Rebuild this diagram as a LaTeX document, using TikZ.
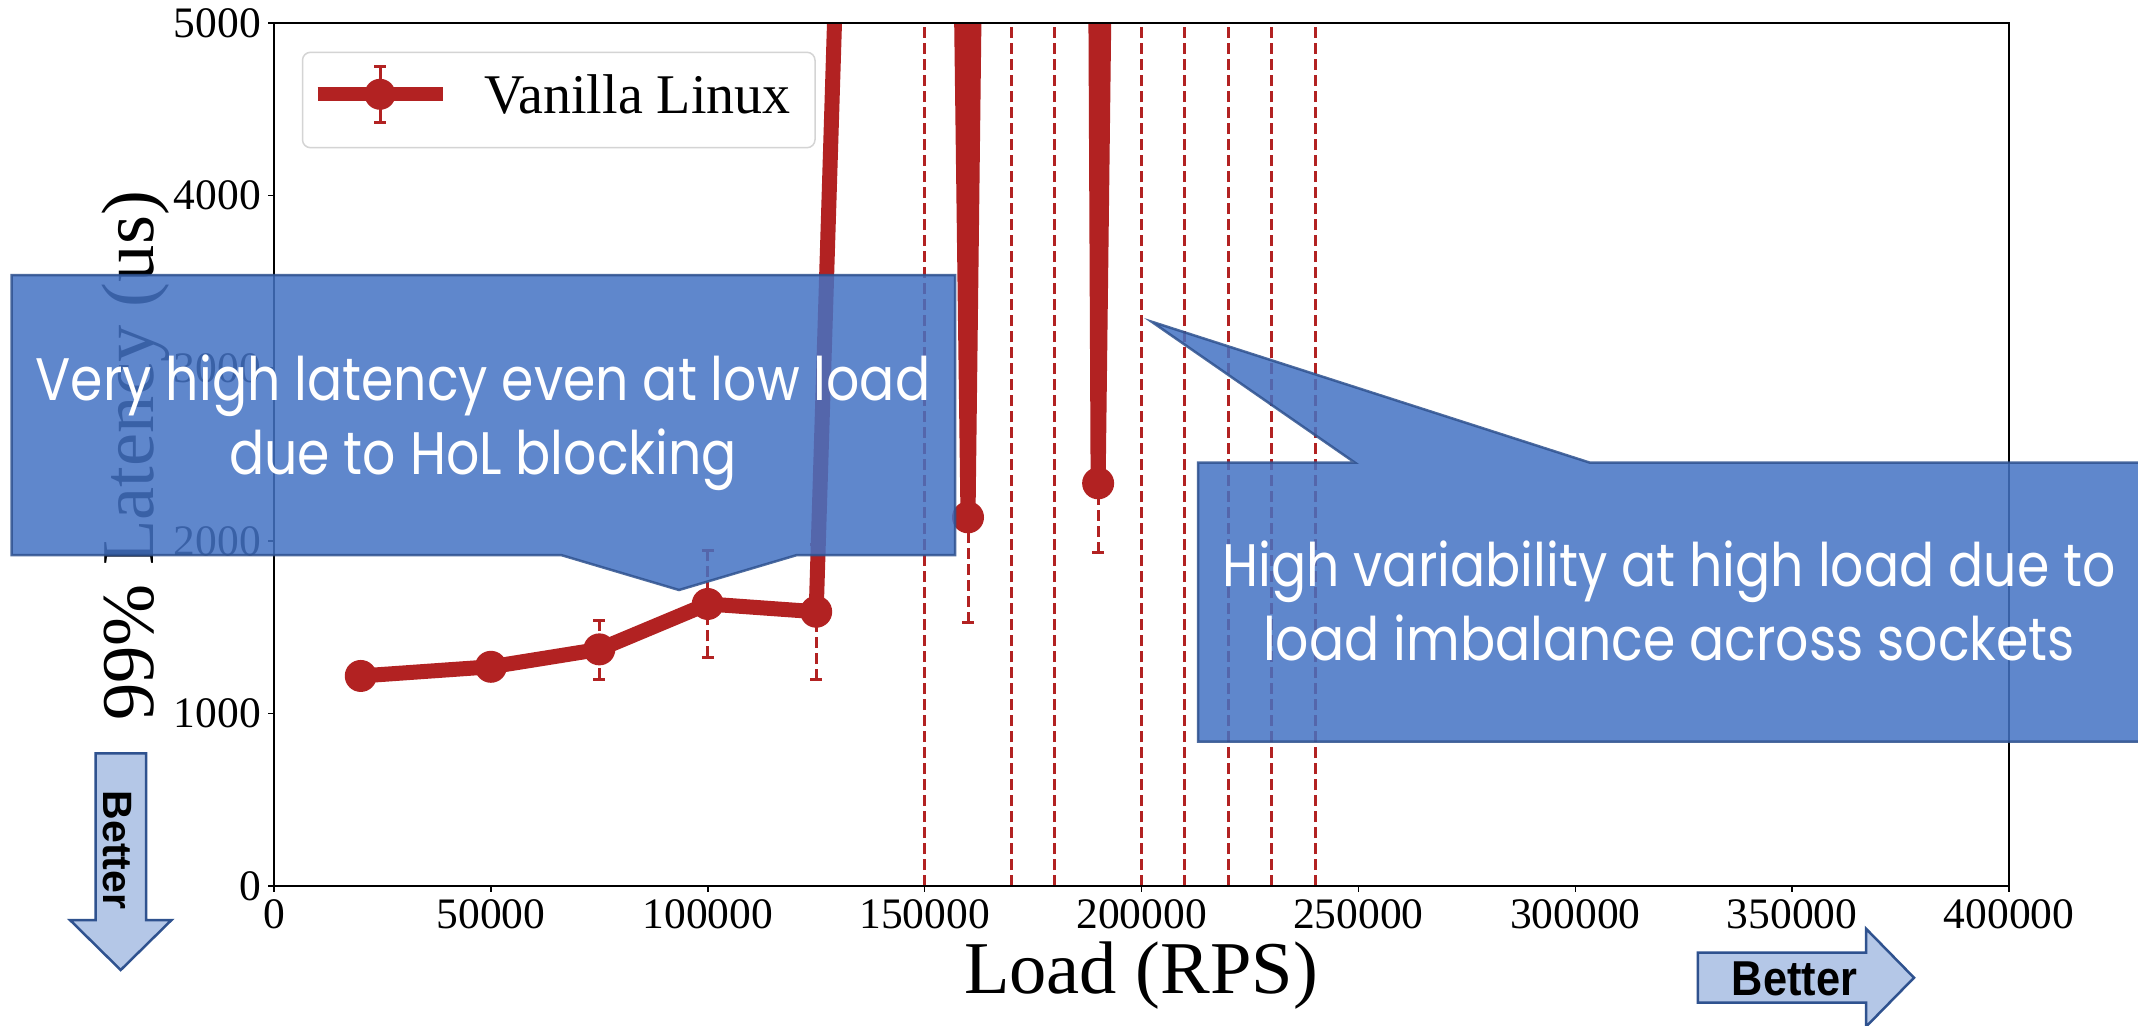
\documentclass[tikz,border=0pt]{standalone}
\usepackage{fontspec}
\setmainfont{Liberation Serif}
\newfontfamily\calloutfont{Poppins}[FakeStretch=0.868]
\newfontfamily\arrowfont{Liberation Sans}
\newfontfamily\arrowcondfont{Liberation Sans}[FakeStretch=0.885]

\definecolor{lineRed}{HTML}{B22222}
\definecolor{calloutFill}{HTML}{4472C4}
\definecolor{calloutEdge}{HTML}{2F528F}
\definecolor{arrowFill}{HTML}{B4C7E7}
\definecolor{legendEdge}{HTML}{D4D4D4}

\begin{document}
\begin{tikzpicture}[x=1pt, y=-1pt,
  spine/.style={line width=1.6pt, black},
  tickmark/.style={line width=1.5pt, black},
  ticklabel/.style={font=\fontsize{43.5}{50}\selectfont, inner sep=0pt},
  axislabel/.style={font=\fontsize{74.5}{86}\selectfont, inner sep=0pt},
  dataline/.style={draw=lineRed, line width=15pt, line join=round},
  errbar/.style={draw=lineRed, line width=3pt, dash pattern=on 11pt off 5pt},
  errcap/.style={draw=lineRed, line width=3pt},
  marker/.style={fill=lineRed},
  callout/.style={fill=calloutFill, draw=calloutEdge, opacity=0.85, line width=2.5pt, line join=miter},
  callouttext/.style={text=white, font=\calloutfont\fontsize{60}{74}\selectfont, inner sep=0pt, anchor=base},
  betterarrow/.style={fill=arrowFill, draw=calloutEdge, line width=2.5pt, line join=miter},
]
\useasboundingbox (0,0) rectangle (2138,1025);
\fill[white] (0,0) rectangle (2138,1025);

% ---- axes: data in thousands (x: kRPS, y: thousand us) ----
\begin{scope}[shift={(274pt,-886pt)}, x=4.3375pt, y=172.6pt]
  % ticks and tick labels
  \foreach \v in {0,...,5} {
    \draw[tickmark] (0,\v) -- ++(-6pt,0);
    \pgfmathtruncatemacro{\lab}{\v*1000}
    \node[ticklabel, anchor=east] (ytick\v) at ([xshift=-13pt]0,\v) {\lab};
  }
  \foreach \k in {0,...,8} {
    \pgfmathtruncatemacro{\xx}{\k*50}
    \draw[tickmark] (\xx,0) -- ++(0,-6pt);
    \ifnum\k=0
      \node[ticklabel, anchor=base] (xtick\k) at ([yshift=-42pt]\xx,0) {0};
    \else
      \node[ticklabel, anchor=base] (xtick\k) at ([yshift=-42pt]\xx,0) {\xx000};
    \fi
  }

  \begin{scope}
    \clip (0,0) rectangle (400,5);
    % error bars that span the whole range
    \foreach \xx in {150,170,180,200,210,220,230,240}
      \draw[errbar] (\xx,0) -- (\xx,5);
    % error bars with lower caps
    \foreach \xx/\lo/\hi in {75/1.199/1.541, 100/1.325/1.943, 125/1.194/1.981,
                             160/1.524/2.748, 190/1.931/2.735} {
      \draw[errbar] (\xx,\lo) -- (\xx,\hi);
      \draw[errcap] ([xshift=-6pt]\xx,\lo) -- ++(12pt,0);
      \draw[errcap] ([xshift=-6pt]\xx,\hi) -- ++(12pt,0);
    }
    % measured 99th percentile latency
    \draw[dataline] plot coordinates {(20,1.217) (50,1.27) (75,1.371) (100,1.634)
      (125,1.589) (150,21.8) (160,2.136) (170,23.2) (180,55.2) (190,2.333)
      (200,23.1) (210,24) (220,24) (230,24) (240,24)};
    \foreach \xx/\yy in {20/1.217, 50/1.27, 75/1.371, 100/1.634, 125/1.589,
                         160/2.136, 190/2.333}
      \fill[marker] (\xx,\yy) circle[radius=16pt];
  \end{scope}

  % spines
  \draw[spine] (0,0) rectangle (400,5);
\end{scope}

% axis labels
\node[axislabel, rotate=90, anchor=base] (ylabel) at (153,456) {99\% Latency (us)};
\node[axislabel, anchor=base] (xlabel) at (1141,993) {Load (RPS)};

% legend
\draw[fill=white, fill opacity=0.8, draw=legendEdge, line width=1.5pt, rounded corners=8pt]
  (302.5,52.3) rectangle (815,147.7);
\draw[draw=lineRed, line width=14pt] (317.5,94.3) -- (443,94.3);
\draw[errcap] (380,66.7) -- (380,122.3);
\draw[errcap] (374,66.7) -- (386,66.7);
\draw[errcap] (374,122.3) -- (386,122.3);
\fill[marker] (380,94.3) circle[radius=15.5pt];
\node[anchor=base west, font=\fontsize{56}{60}\selectfont, inner sep=0pt] (legendtext)
  at (484,113.3) {Vanilla Linux};

% callouts
\path[callout] (11.5,275) -- (955,275) -- (955,555) -- (797,555) -- (679,590)
  -- (561,555) -- (11.5,555) -- cycle;
\node[callouttext] (note1a) at (483,400) {Very high latency even at low load};
\node[callouttext] (note1b) at (483,474) {due to HoL blocking};

\path[callout] (1198,462.7) -- (1355,462.7) -- (1151.6,321.7) -- (1590,462.7)
  -- (2150,462.7) -- (2150,741.7) -- (1198,741.7) -- cycle;
\node[callouttext] (note2a) at (1669,586) {High variability at high load due to};
\node[callouttext] (note2b) at (1669,660) {load imbalance across sockets};

% "better" direction arrows
\path[betterarrow] (95.5,753.3) -- (146,753.3) -- (146,920) -- (171.5,920)
  -- (120.7,970) -- (70,920) -- (95.5,920) -- cycle;
\node[font=\arrowfont\bfseries\fontsize{41}{45}\selectfont, rotate=-90, inner sep=0pt]
  (better1) at (117,850) {Better};

\path[betterarrow] (1697.8,952.7) -- (1866,952.7) -- (1866,928.7) -- (1914,977.7)
  -- (1866,1026.7) -- (1866,1002.7) -- (1697.8,1002.7) -- cycle;
\node[font=\arrowcondfont\bfseries\fontsize{49}{55}\selectfont, anchor=base, inner sep=0pt]
  (better2) at (1794.5,995) {Better};
\end{tikzpicture}
\end{document}
